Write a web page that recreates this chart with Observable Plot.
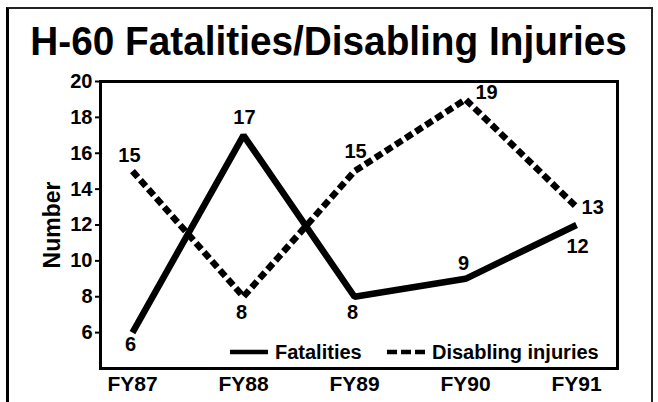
<!DOCTYPE html>
<html><head><meta charset="utf-8">
<script src="https://cdn.jsdelivr.net/npm/d3@7"></script>
<script src="https://cdn.jsdelivr.net/npm/@observablehq/plot@0.6"></script>
<style>
body{margin:0;background:#fff;}
#wrap{position:relative;width:658px;height:402px;font-family:"Liberation Sans",Arial,Helvetica,sans-serif;color:#000;overflow:hidden;background:#fff}
#border{position:absolute;left:6px;top:7px;width:647px;height:400px;border-left:3px solid #000;border-top:2px solid #222;border-right:2px solid #222;box-sizing:border-box;pointer-events:none}
#title{position:relative;height:66px;box-sizing:border-box;padding-top:21px;line-height:41px;font-size:41px;font-weight:bold;text-align:center;white-space:nowrap}
#title span{display:inline-block;transform:scaleX(0.945);transform-origin:center}
#chart svg{display:block}
.lg{position:absolute;font-size:20px;font-weight:bold;line-height:20px;white-space:nowrap}
.sw{position:absolute}
</style></head><body>
<div id="wrap">
 <div id="border"></div>
 <div id="title"><span>H-60 Fatalities/Disabling Injuries</span></div>
 <div id="chart"></div>
 <div id="legend"></div>
</div>
<script>
// ---- data ----
const years = ["FY87", "FY88", "FY89", "FY90", "FY91"];
const fatalities = [6, 17, 8, 9, 12];
const disabling = [15, 8, 15, 19, 13];
const yTicks = [6, 8, 10, 12, 14, 16, 18, 20];
const seriesNames = ["Fatalities", "Disabling injuries"];
const yLabel = "Number";

// ---- label placement (style only) ----
const fatalOffsets = [[-2, 12], [1, -18], [-2, 16], [-2, -15], [1, 22]];
const disOffsets = [[-3, -16], [-2, 16], [1, -20], [21, -7], [5, 1, "start"]];

const fatalRows = years.map((y, i) => ({i, year: y, value: fatalities[i]}));
const disRows = years.map((y, i) => ({i, year: y, value: disabling[i]}));

const font = "Liberation Sans, Arial, Helvetica, sans-serif";

function labelMarks(rows, offsets) {
  return rows.map((r, k) => Plot.text([r], {
    x: "i", y: "value", text: d => String(d.value),
    dx: offsets[k][0], dy: offsets[k][1],
    textAnchor: offsets[k][2] || "middle",
    fontSize: 20, fontWeight: "bold", fill: "black", fontFamily: font
  }));
}

const chart = Plot.plot({
  width: 658, height: 336,
  marginTop: 15, marginBottom: 34, marginLeft: 100, marginRight: 41,
  style: {fontFamily: font, color: "black", background: "white"},
  x: {type: "linear", domain: [-0.288, 4.369]},
  y: {domain: [4, 20]},
  marks: [
    Plot.axisY({ticks: yTicks, tickSize: 5, tickPadding: 3, fontSize: 20, fontWeight: "bold", label: null, strokeWidth: 2}),
    Plot.axisY({ticks: [], label: yLabel, labelArrow: "none", labelAnchor: "center", labelOffset: 57, fontSize: 23, fontWeight: "bold"}),
    Plot.axisX({ticks: [0, 1, 2, 3, 4], tickFormat: i => years[i], tickSize: 0, tickPadding: 8, fontSize: 21, fontWeight: "bold", label: null}),
    Plot.line(fatalRows, {x: "i", y: "value", stroke: "black", strokeWidth: 6.5, strokeLinejoin: "miter", strokeLinecap: "butt"}),
    Plot.line(disRows, {x: "i", y: "value", stroke: "black", strokeWidth: 6.5, strokeDasharray: "8,4", strokeLinejoin: "miter", strokeLinecap: "butt"}),
    ...labelMarks(fatalRows, fatalOffsets),
    ...labelMarks(disRows, disOffsets),
    Plot.frame({stroke: "black", strokeWidth: 3})
  ]
});
document.getElementById("chart").appendChild(chart);

// ---- legend (HTML key) ----
const lg = document.getElementById("legend");
lg.innerHTML = `
  <svg class="sw" style="left:230px;top:349px" width="38" height="6"><line x1="0" y1="3" x2="38" y2="3" stroke="black" stroke-width="4.5"/></svg>
  <span class="lg" style="left:275px;top:342px">${seriesNames[0]}</span>
  <svg class="sw" style="left:387px;top:349px" width="40" height="6"><line x1="0" y1="3" x2="40" y2="3" stroke="black" stroke-width="4.5" stroke-dasharray="10,4"/></svg>
  <span class="lg" style="left:432px;top:342px">${seriesNames[1]}</span>`;
</script>
</body></html>
